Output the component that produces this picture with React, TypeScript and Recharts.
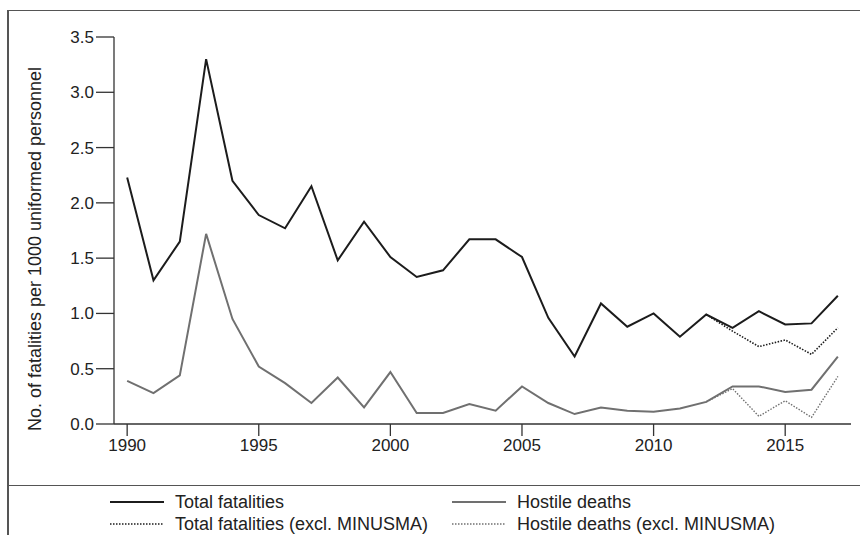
import React from "react";
import { Line, LineChart, XAxis, YAxis } from "recharts";

const years = [
  1990, 1991, 1992, 1993, 1994, 1995, 1996, 1997, 1998, 1999, 2000, 2001, 2002, 2003,
  2004, 2005, 2006, 2007, 2008, 2009, 2010, 2011, 2012, 2013, 2014, 2015, 2016, 2017,
];

const totalFatalities = [
  2.23, 1.3, 1.65, 3.3, 2.2, 1.89, 1.77, 2.15, 1.48, 1.83, 1.51, 1.33, 1.39, 1.67,
  1.67, 1.51, 0.96, 0.61, 1.09, 0.88, 1.0, 0.79, 0.99, 0.87, 1.02, 0.9, 0.91, 1.16,
];

const totalExclMinusma = [
  null, null, null, null, null, null, null, null, null, null, null, null, null, null,
  null, null, null, null, null, null, null, null, 0.99, 0.84, 0.7, 0.76, 0.63, 0.87,
];

const hostileDeaths = [
  0.39, 0.28, 0.44, 1.72, 0.95, 0.52, 0.37, 0.19, 0.42, 0.15, 0.47, 0.1, 0.1, 0.18,
  0.12, 0.34, 0.19, 0.09, 0.15, 0.12, 0.11, 0.14, 0.2, 0.34, 0.34, 0.29, 0.31, 0.61,
];

const hostileExclMinusma = [
  null, null, null, null, null, null, null, null, null, null, null, null, null, null,
  null, null, null, null, null, null, null, null, 0.2, 0.32, 0.07, 0.21, 0.06, 0.43,
];

const xTicks = [1990, 1995, 2000, 2005, 2010, 2015];
const yTicks = [0, 0.5, 1.0, 1.5, 2.0, 2.5, 3.0, 3.5];

const data = years.map((year, i) => ({
  year,
  total: totalFatalities[i],
  totalEx: totalExclMinusma[i],
  hostile: hostileDeaths[i],
  hostileEx: hostileExclMinusma[i],
}));

const FONT = '"Liberation Sans", Arial, sans-serif';
const BLACK = "#1c1c1c";
const GREY = "#707070";
const AXIS = "#333";
const TEXT = "#222";

const legendItems = [
  { label: "Total fatalities", color: BLACK, dash: undefined, width: 2, left: 110, top: 493 },
  { label: "Total fatalities (excl. MINUSMA)", color: BLACK, dash: "1.5 1.5", width: 1.5, left: 110, top: 515 },
  { label: "Hostile deaths", color: GREY, dash: undefined, width: 2, left: 452, top: 493 },
  { label: "Hostile deaths (excl. MINUSMA)", color: GREY, dash: "1.5 1.5", width: 1.5, left: 452, top: 515 },
];

function YLabel() {
  return (
    <text
      x={35}
      y={249}
      transform="rotate(-90 35 249)"
      textAnchor="middle"
      dominantBaseline="central"
      fill={TEXT}
      fontSize={18}
      fontFamily={FONT}
    >
      No. of fatalities per 1000 uniformed personnel
    </text>
  );
}

export default function App() {
  return (
    <div style={{ position: "relative", width: 860, height: 535, background: "#fff", overflow: "hidden", fontFamily: FONT }}>
      <style>{"body{margin:0}"}</style>
      <div style={{ position: "absolute", left: 0, top: 0 }}>
        <LineChart width={860} height={480} data={data} margin={{ top: 37, right: 9, left: 14, bottom: 26 }}>
          <XAxis
            dataKey="year"
            type="number"
            domain={[1989.5, 2017.5]}
            ticks={xTicks}
            height={30}
            tickSize={12}
            tickMargin={3}
            axisLine={{ stroke: AXIS, strokeWidth: 1.3 }}
            tickLine={{ stroke: AXIS, strokeWidth: 1.3 }}
            tick={{ fill: TEXT, fontSize: 17, fontFamily: FONT }}
          />
          <YAxis
            type="number"
            domain={[0, 3.5]}
            ticks={yTicks}
            width={100}
            tickSize={18}
            tickMargin={2}
            tickFormatter={(v: number) => v.toFixed(1)}
            axisLine={{ stroke: AXIS, strokeWidth: 1.3 }}
            tickLine={{ stroke: AXIS, strokeWidth: 1.3 }}
            tick={{ fill: TEXT, fontSize: 17, fontFamily: FONT }}
            label={{ content: () => <YLabel /> }}
          />
          <Line dataKey="totalEx" stroke={BLACK} strokeWidth={1.6} strokeDasharray="1.5 1.5" dot={false} isAnimationActive={false} />
          <Line dataKey="hostileEx" stroke={GREY} strokeWidth={1.4} strokeDasharray="1.5 1.5" dot={false} isAnimationActive={false} />
          <Line dataKey="hostile" stroke={GREY} strokeWidth={2} dot={false} isAnimationActive={false} strokeLinejoin="miter" />
          <Line dataKey="total" stroke={BLACK} strokeWidth={2} dot={false} isAnimationActive={false} strokeLinejoin="miter" />
        </LineChart>
      </div>
      {legendItems.map((item) => (
        <div key={item.label} style={{ position: "absolute", left: item.left, top: item.top, display: "flex", alignItems: "center", height: 18 }}>
          <svg width={54} height={18} style={{ marginRight: 11 }}>
            <line x1={0} x2={54} y1={9} y2={9} stroke={item.color} strokeWidth={item.width} strokeDasharray={item.dash} />
          </svg>
          <span style={{ fontSize: 18, lineHeight: "18px", color: TEXT, whiteSpace: "nowrap" }}>{item.label}</span>
        </div>
      ))}
      <div style={{ position: "absolute", left: 7, top: 10, width: 860, height: 540, borderTop: "1.5px solid #555", borderLeft: "2px solid #555", zIndex: 2 }} />
      <div style={{ position: "absolute", left: 7, top: 485, width: 860, height: 0, borderTop: "1.5px solid #555", zIndex: 2 }} />
    </div>
  );
}
